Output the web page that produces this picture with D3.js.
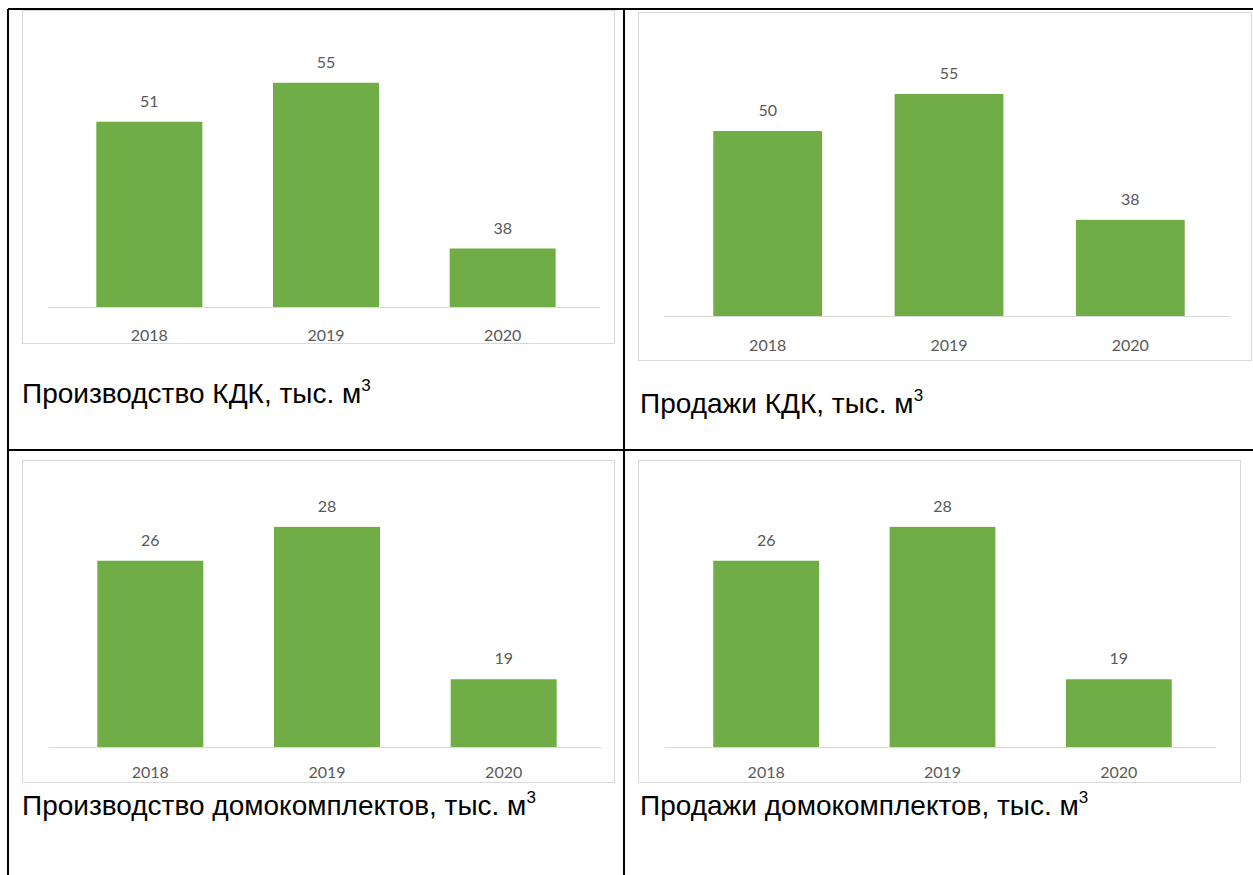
<!DOCTYPE html>
<html><head><meta charset="utf-8">
<script src="https://cdn.jsdelivr.net/npm/d3@7"></script>
<style>html,body{margin:0;padding:0;background:#fff;}svg{display:block;}</style>
</head><body>
<svg id="c" width="1253" height="875"></svg>
<script>
const years = ["2018", "2019", "2020"];
const prodKDK = [51, 55, 38];
const salesKDK = [50, 55, 38];
const prodHouse = [26, 28, 19];
const salesHouse = [26, 28, 19];
const titles = ["Производство КДК, тыс. м", "Продажи КДК, тыс. м", "Производство домокомплектов, тыс. м", "Продажи домокомплектов, тыс. м"];

const svg = d3.select("#c");
const green = "#70AD47";

// panel layout: box, plot band range, baseline, y domain, title pos
const panels = [
  {vals: prodKDK, title: titles[0], box:[22,10,614,343], xr:[61,591], yr:[307,34], yd:[32,60], tp:23, tx:22, ty:403},
  {vals: salesKDK, title: titles[1], box:[638,12,1251,360], xr:[677,1221], yr:[316,57], yd:[25,60], tp:24, tx:640, ty:413},
  {vals: prodHouse, title: titles[2], box:[22,460,614,782], xr:[62,592], yr:[747,493], yd:[15,30], tp:20, tx:22, ty:815},
  {vals: salesHouse, title: titles[3], box:[638,460,1240,782], xr:[678,1207], yr:[747,493], yd:[15,30], tp:20, tx:640, ty:815}
];

panels.forEach(p => {
  const g = svg.append("g");
  g.append("rect").attr("x", p.box[0]+0.5).attr("y", p.box[1]+0.5)
    .attr("width", p.box[2]-p.box[0]).attr("height", p.box[3]-p.box[1])
    .attr("fill", "#fff").attr("stroke", "#d9d9d9").attr("stroke-width", 1);
  const x = d3.scaleBand().domain(years).range(p.xr).paddingInner(0.4).paddingOuter(0.2);
  const y = d3.scaleLinear().domain(p.yd).range(p.yr);
  const data = years.map((yr, i) => ({yr, v: p.vals[i]}));
  g.selectAll("rect.bar").data(data).join("rect").attr("class", "bar")
    .attr("x", d => x(d.yr)).attr("width", x.bandwidth())
    .attr("y", d => y(d.v)).attr("height", d => y(p.yd[0]) - y(d.v))
    .attr("fill", green);
  const axis = d3.axisBottom(x).tickSize(0).tickPadding(p.tp);
  const ag = g.append("g").attr("transform", `translate(0,${y(p.yd[0])})`).call(axis);
  ag.select(".domain").attr("stroke", "#d9d9d9").attr("d", `M${p.xr[0]-13},0.5H${p.xr[1]+9}`);
  ag.selectAll("text").attr("fill", "#595959").attr("font-family", "Lato, 'Open Sans', sans-serif").attr("font-size", 16);
  g.selectAll("text.lbl").data(data).join("text").attr("class", "lbl")
    .attr("x", d => x(d.yr) + x.bandwidth()/2).attr("y", d => y(d.v) - 15)
    .attr("text-anchor", "middle").attr("fill", "#595959")
    .attr("font-family", "Lato, 'Open Sans', sans-serif").attr("font-size", 16)
    .text(d => d.v);
  const t = g.append("text").attr("x", p.tx).attr("y", p.ty)
    .attr("font-family", "'Liberation Sans', Arial, sans-serif").attr("font-size", 28).attr("fill", "#000");
  t.append("tspan").text(p.title);
  t.append("tspan").attr("dy", -12).attr("font-size", 17).text("3");
});

// table borders
const lines = [[8,9,1253,9],[8,9,8,875],[624,9,624,875],[8,450,1253,450]];
svg.selectAll("line.tb").data(lines).join("line").attr("class","tb")
  .attr("x1", d=>d[0]).attr("y1", d=>d[1]).attr("x2", d=>d[2]).attr("y2", d=>d[3])
  .attr("stroke", "#000").attr("stroke-width", 2);
</script>
</body></html>
